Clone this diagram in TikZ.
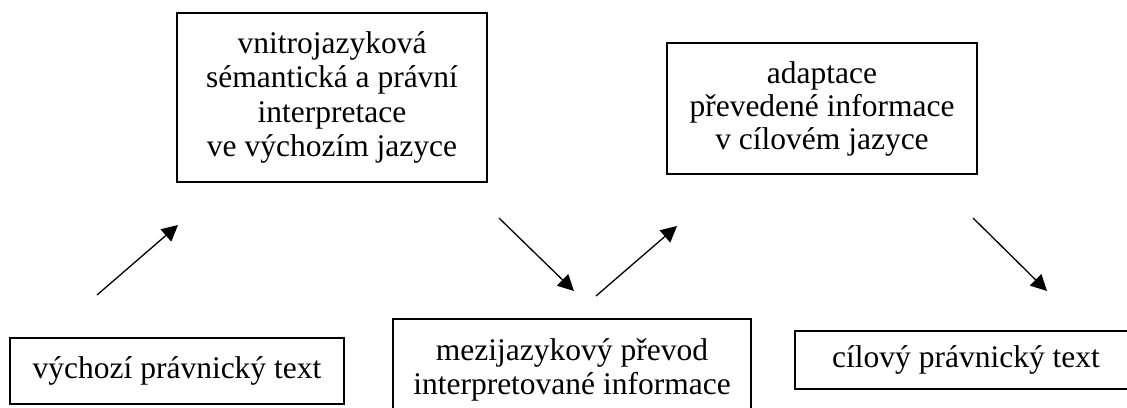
\documentclass[tikz,border=0pt]{standalone}
\usepackage{fontspec}
\setmainfont{Liberation Serif}
\usetikzlibrary{arrows.meta}
\begin{document}
\begin{tikzpicture}[x=1pt,y=-1pt,
  box/.style={draw, line width=1.7pt, rectangle, align=center, inner sep=0pt,
    font=\fontsize{31.5}{34.5}\selectfont},
  conn/.style={line width=1.3pt, -{Triangle[length=16pt,width=16pt]}}]
\useasboundingbox (0,0) rectangle (1127,407);
\clip (0,0) rectangle (1127,407);
\node[box, minimum width=310pt, minimum height=169pt] (interp) at (332,97.5)
  {vnitrojazyková\\sémantická a právní\\interpretace\\ve výchozím jazyce};
\node[box, minimum width=310pt, minimum height=131pt,
  font=\fontsize{31.5}{33}\selectfont] (adapt) at (822,108.5)
  {adaptace\\převedené informace\\v cílovém jazyce};
\node[box, minimum width=334pt, minimum height=66pt] (src) at (177,371)
  {výchozí právnický text};
\node[box, minimum width=358pt, minimum height=102pt,
  font=\fontsize{31.5}{34}\selectfont] (transfer) at (572,370)
  {mezijazykový převod\\interpretované informace};
\node[box, minimum width=342pt, minimum height=58pt] (tgt) at (966,360)
  {cílový právnický text};
\coordinate (a1s) at (97,295);  \coordinate (a1e) at (178,225);
\coordinate (a2s) at (499,218); \coordinate (a2e) at (574,291);
\coordinate (a3s) at (596,296); \coordinate (a3e) at (677,226);
\coordinate (a4s) at (973,218); \coordinate (a4e) at (1047,291);
\draw[conn] (a1s) -- (a1e);
\draw[conn] (a2s) -- (a2e);
\draw[conn] (a3s) -- (a3e);
\draw[conn] (a4s) -- (a4e);
\end{tikzpicture}
\end{document}
